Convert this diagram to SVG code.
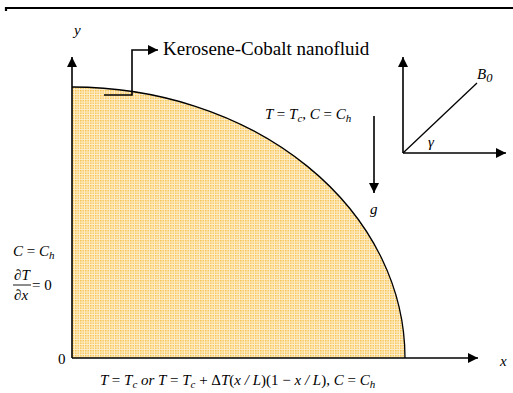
<svg xmlns="http://www.w3.org/2000/svg" width="513" height="393" viewBox="0 0 513 393">
<defs>
<pattern id="dots" width="2.5" height="2.5" patternUnits="userSpaceOnUse">
<rect width="2.5" height="2.5" fill="#fdefcf"/>
<rect width="1.5" height="1.5" fill="#f8c24c"/>
</pattern>
<marker id="ah" viewBox="0 0 10 10" refX="10" refY="5" markerWidth="10" markerHeight="10" markerUnits="userSpaceOnUse" orient="auto">
<path d="M0,0 L10,5 L0,10 Z" fill="#000"/>
</marker>
</defs>
<style>
.ln{stroke:#000;stroke-width:1.3;fill:none}
.ax{stroke:#000;stroke-width:1.6;fill:none}
.m{font-style:italic;font-size:15px;fill:#000}
.r{font-style:normal}
.t{font-size:19px;fill:#000}
</style>
<rect width="513" height="393" fill="#fff"/>
<path d="M6,11 V8 H513" stroke="#000" stroke-width="2.2" fill="none"/>
<g id="domain">
<path d="M72,358 V87 A333,271 0 0 1 405,358 Z" fill="url(#dots)"/>
<path d="M72,87 A333,271 0 0 1 405,358" class="ln"/>
</g>
<g id="connectors">
<path d="M72,358 V57" class="ax" marker-end="url(#ah)"/>
<path d="M72,358 H478" class="ax" marker-end="url(#ah)"/>
<path d="M104,95 H132 V50 H158" class="ax" marker-end="url(#ah)"/>
<path d="M374,116 V193" class="ax" marker-end="url(#ah)"/>
<path d="M403,153 V57" class="ax" marker-end="url(#ah)"/>
<path d="M403,153 H506" class="ax" marker-end="url(#ah)"/>
<path d="M403,153 L477,83" class="ln"/>
</g>
<g id="labels" font-family="'Liberation Serif', 'Times New Roman', serif">
<text x="74" y="35" class="m">y</text>
<text x="500" y="366" class="m">x</text>
<text x="58" y="364" class="m r">0</text>
<text x="163" y="55" class="t">Kerosene-Cobalt nanofluid</text>
<text x="477" y="79" class="m" font-size="16.5">B<tspan dy="3" font-size="12.5">0</tspan></text>
<text x="428" y="147" class="m">γ</text>
<text x="370" y="214" class="m" font-size="16">g</text>
<text x="265" y="119" class="m">T <tspan class="r">=</tspan> T<tspan dy="3" font-size="11">c</tspan><tspan dy="-3">, C </tspan><tspan class="r">=</tspan> C<tspan dy="3" font-size="11">h</tspan></text>
<text x="13" y="256" class="m">C <tspan class="r">=</tspan> C<tspan dy="3" font-size="11">h</tspan></text>
<text x="14" y="280" class="m">∂T</text>
<path d="M13,285 H31" stroke="#000" stroke-width="0.9"/>
<text x="14" y="300" class="m">∂x</text>
<text x="32" y="290" class="m r">= 0</text>
<text x="100" y="385" class="m" font-size="15.8">T <tspan class="r">=</tspan> T<tspan dy="3" font-size="11">c</tspan><tspan dy="-3"> or T </tspan><tspan class="r">=</tspan> T<tspan dy="3" font-size="11">c</tspan><tspan dy="-3" class="r"> + Δ</tspan>T<tspan class="r">(</tspan>x / L<tspan class="r">)(1 − </tspan>x / L<tspan class="r">), </tspan>C <tspan class="r">=</tspan> C<tspan dy="3" font-size="11">h</tspan></text>
</g>
</svg>
